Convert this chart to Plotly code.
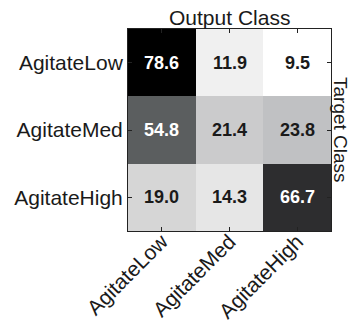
import plotly.graph_objects as go

# Confusion matrix (percent of each target class)
output_classes = ["AgitateLow", "AgitateMed", "AgitateHigh"]
target_classes = ["AgitateLow", "AgitateMed", "AgitateHigh"]
percent = [
    [78.6, 11.9, 9.5],
    [54.8, 21.4, 23.8],
    [19.0, 14.3, 66.7],
]

zmin = min(min(r) for r in percent)
zmax = max(max(r) for r in percent)

gray_scale = [
    [0.0, "#ffffff"],
    [0.035, "#f0f0f0"],
    [0.07, "#e6e6e6"],
    [0.14, "#d5d5d5"],
    [0.2, "#c2c3c5"],
    [0.66, "#5a5d5e"],
    [0.83, "#2c2c2e"],
    [1.0, "#000000"],
]

FONT = "Liberation Sans, Arial, sans-serif"

fig = go.Figure(
    go.Heatmap(
        z=percent,
        x=output_classes,
        y=target_classes,
        zmin=zmin,
        zmax=zmax,
        colorscale=gray_scale,
        showscale=False,
        hoverinfo="skip",
    )
)

# Cell value labels, light text on dark cells
mid = (zmin + zmax) / 2
for i, row in enumerate(percent):
    for j, v in enumerate(row):
        fig.add_annotation(
            x=output_classes[j], y=target_classes[i], xref="x", yref="y",
            text=f"<b>{v:.1f}</b>", showarrow=False,
            font=dict(family=FONT, size=18,
                      color="#ffffff" if v > mid else "#1a1a1a"),
        )

fig.add_annotation(
    x=0.5, y=1.0, xref="paper", yref="paper", yanchor="bottom", yshift=-2,
    text="Output Class", showarrow=False,
    font=dict(family=FONT, size=21, color="#1a1a1a"),
)
fig.add_annotation(
    x=1.0, y=0.5, xref="paper", yref="paper", xanchor="center", xshift=10,
    text="Target Class", showarrow=False, textangle=90, borderpad=0,
    font=dict(family=FONT, size=19, color="#1a1a1a"),
)

axis_common = dict(
    showline=True, linecolor="#222222", linewidth=1, mirror="ticks",
    ticks="inside", ticklen=4, tickcolor="#222222",
    showgrid=False, zeroline=False, automargin=False,
    tickfont=dict(family=FONT, size=21, color="#1a1a1a"),
)
fig.update_xaxes(**axis_common, tickangle=-45, ticklabelstandoff=-11)
fig.update_yaxes(**axis_common, autorange="reversed")

fig.update_layout(
    width=350, height=323,
    margin=dict(l=128, r=19, t=29, b=92),
    paper_bgcolor="#ffffff", plot_bgcolor="#ffffff",
)

fig.write_html("out.html")
